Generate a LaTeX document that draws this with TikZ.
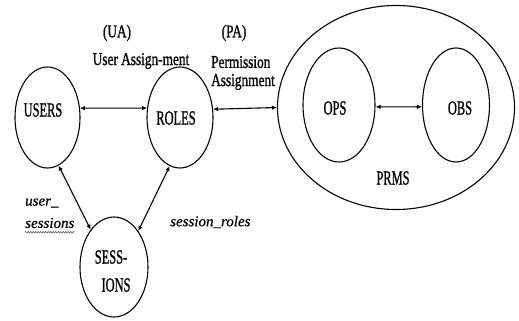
\documentclass[tikz,border=0pt]{standalone}
\usepackage{fontspec}
\usepackage{graphicx}
\setmainfont{Liberation Serif}[FakeBold=0.6]
\newfontfamily\heavyfont{Liberation Serif}[FakeBold=1.2]
\usetikzlibrary{shapes.geometric,arrows.meta,decorations.pathmorphing}
\newcommand{\nmtxt}[1]{{\heavyfont\fontsize{20}{22}\selectfont\bfseries\mdseries\scalebox{0.62}[1]{#1}}}
\newcommand{\lbtxt}[1]{{\heavyfont\fontsize{18}{20}\selectfont\scalebox{0.74}[1]{#1}}}
\newcommand{\ittxt}[1]{{\fontsize{15}{17}\selectfont\itshape #1}}
\tikzset{
  oval/.style={ellipse, draw, line width=1.1pt, inner sep=0pt},
  txt/.style={inner sep=0pt, anchor=center},
  link/.style={line width=1.1pt, {Latex[length=5pt,width=4.5pt]}-{Latex[length=5pt,width=4.5pt]}}
}
\begin{document}
\begin{tikzpicture}[x=1pt,y=-1pt]
\useasboundingbox (0,0) rectangle (519,321);
% ellipses
\node[oval, minimum width=65pt, minimum height=101pt] (users) at (47.5,117.5) {};
\node[oval, minimum width=66pt, minimum height=101pt] (roles) at (180,117.5) {};
\node[oval, minimum width=68pt, minimum height=100pt] (sess) at (114,267) {};
\node[oval, minimum width=237pt, minimum height=204pt] (prms) at (396,107.5) {};
\node[oval, minimum width=72pt, minimum height=114pt] (ops) at (339,105) {};
\node[oval, minimum width=67pt, minimum height=114pt] (obs) at (456,105) {};
% texts
\node[txt] (tusers) at (43,110) {\nmtxt{USERS}};
\node[txt] (troles) at (176,118) {\nmtxt{ROLES}};
\node[txt] (tsess1) at (111,257) {\nmtxt{SESS-}};
\node[txt] (tsess2) at (116,285) {\nmtxt{IONS}};
\node[txt] (tprms) at (393,178) {\nmtxt{PRMS}};
\node[txt] (tops) at (335,108) {\nmtxt{OPS}};
\node[txt] (tobs) at (460,108) {\nmtxt{OBS}};
\node[txt] (ua) at (117,33) {\lbtxt{(UA)}};
\node[txt] (uaname) at (141,61) {\lbtxt{User Assign-ment}};
\node[txt] (pa) at (234,33) {\lbtxt{(PA)}};
\node[txt, anchor=west] (pa1) at (211,62) {\lbtxt{Permission}};
\node[txt, anchor=west] (pa2) at (211,82) {\lbtxt{Assignment}};
\node[txt, anchor=west] (us1) at (25,203) {\ittxt{user\_}};
\node[txt, anchor=west] (us2) at (25,223) {\ittxt{sessions}};
\node[txt, anchor=west] (sr) at (170,222) {\ittxt{session\_roles}};
\draw[line width=0.5pt, black!70, decorate, decoration={snake, amplitude=0.8pt, segment length=2.5pt}]
  ([yshift=-4pt]us2.south west) -- ([yshift=-4pt]us2.south east);
% connectors
\draw[link] (users.16) -- (roles.164);
\draw[link] (roles.14) -- (prms.180);
\draw[link] (ops.-3) -- (obs.183);
\draw[link] (users.-77.5) -- (sess.122);
\draw[link] (roles.-102.4) -- (sess.56.7);
\end{tikzpicture}
\end{document}
